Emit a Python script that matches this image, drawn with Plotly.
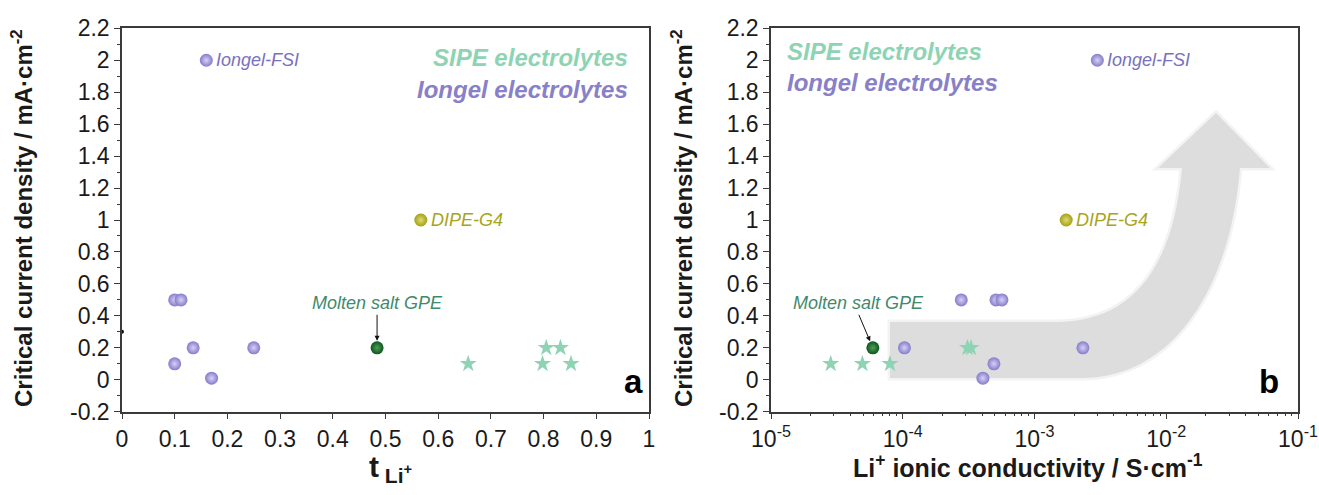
import math
import plotly.graph_objects as go

# ---- data -------------------------------------------------------------
# panel a: critical current density vs Li+ transference number
iongel_t = [0.16, 0.100, 0.112, 0.100, 0.135, 0.170, 0.250]
iongel_j_a = [2.0, 0.5, 0.5, 0.1, 0.2, 0.01, 0.2]
sipe_t = [0.657, 0.805, 0.832, 0.798, 0.852]
sipe_j_a = [0.1, 0.2, 0.2, 0.1, 0.1]
molten_t = [0.484]
molten_j_a = [0.2]
dipe_t = [0.567]
dipe_j_a = [1.0]
extra_t = [0.0]
extra_j_a = [0.3]

# panel b: critical current density vs Li+ ionic conductivity (S/cm)
iongel_sigma = [3.0e-3, 2.78e-4, 5.10e-4, 5.66e-4, 1.03e-4, 2.33e-3, 4.92e-4, 4.06e-4]
iongel_j_b = [2.0, 0.5, 0.5, 0.5, 0.2, 0.2, 0.1, 0.01]
sipe_sigma = [2.84e-5, 4.94e-5, 8.0e-5, 3.1e-4, 3.3e-4]
sipe_j_b = [0.1, 0.1, 0.1, 0.2, 0.2]
molten_sigma = [5.93e-5]
molten_j_b = [0.2]
dipe_sigma = [1.74e-3]
dipe_j_b = [1.0]

x_ticks_a = [i / 10 for i in range(11)]
x_ticktext_a = ["0"] + [f"{v:.1f}" for v in x_ticks_a[1:-1]] + ["1"]
x_ticks_b = [1e-5, 1e-4, 1e-3, 1e-2, 1e-1]
x_ticktext_b = ["10<sup>-5</sup>", "10<sup>-4</sup>", "10<sup>-3</sup>", "10<sup>-2</sup>", "10<sup>-1</sup>"]
x_minor_b = [m * d for d in [1e-5, 1e-4, 1e-3, 1e-2] for m in range(2, 10)]
y_ticks = [-0.2, 0, 0.2, 0.4, 0.6, 0.8, 1, 1.2, 1.4, 1.6, 1.8, 2, 2.2]
y_ticktext = ["-0.2", "0", "0.2", "0.4", "0.6", "0.8", "1", "1.2", "1.4", "1.6", "1.8", "2", "2.2"]

# ---- styling ----------------------------------------------------------
W, H = 1319, 495
FONT = "Liberation Sans, Arial, sans-serif"
PURPLE = dict(color="#857cca", gradient=dict(type="radial", color="#d6d1f6"))
GREEN = dict(color="#0c561b", gradient=dict(type="radial", color="#4f9e5c"))
OLIVE = dict(color="#a5a016", gradient=dict(type="radial", color="#dedb72"))
STAR_COLOR = "#8ed4b4"
LABEL_PURPLE = "#7870c0"
LABEL_OLIVE = "#a8a41c"
LABEL_GREEN = "#3f8a6c"
GROUP_PURPLE = "#8880c8"
AXIS_COLOR = "#3a3a3a"
TEXT_COLOR = "#1a1a1a"

# plot frames in pixels
A_L, A_R = 122, 649
B_L, B_R = 771, 1298
TOP, BOT = 28.3, 411.7


def px(x):
    return x / W


def py(y):
    return 1 - y / H


fig = go.Figure()


def sphere(x, y, style, xa, ya, size=13):
    fig.add_trace(go.Scatter(
        x=x, y=y, mode="markers", xaxis=xa, yaxis=ya, showlegend=False,
        cliponaxis=False,
        marker=dict(size=size, symbol="circle", line=dict(width=0), **style),
    ))


def stars(x, y, xa, ya):
    fig.add_trace(go.Scatter(
        x=x, y=y, mode="markers", xaxis=xa, yaxis=ya, showlegend=False,
        marker=dict(size=13, symbol="star", color=STAR_COLOR, line=dict(width=0)),
    ))


# panel a
stars(sipe_t, sipe_j_a, "x", "y")
sphere(iongel_t, iongel_j_a, PURPLE, "x", "y")
sphere(molten_t, molten_j_a, GREEN, "x", "y")
sphere(dipe_t, dipe_j_a, OLIVE, "x", "y")
fig.add_trace(go.Scatter(x=extra_t, y=extra_j_a, mode="markers", xaxis="x", yaxis="y",
                         showlegend=False, cliponaxis=False,
                         marker=dict(size=4, color="#111111")))

# panel b
stars(sipe_sigma, sipe_j_b, "x2", "y2")
sphere(iongel_sigma, iongel_j_b, PURPLE, "x2", "y2")
sphere(molten_sigma, molten_j_b, GREEN, "x2", "y2")
sphere(dipe_sigma, dipe_j_b, OLIVE, "x2", "y2")

axis_common = dict(
    showline=True, linecolor=AXIS_COLOR, linewidth=1.5, mirror=True,
    ticks="outside", ticklen=6, tickwidth=1.3, tickcolor=AXIS_COLOR,
    showgrid=False, zeroline=False, automargin=False,
    tickfont=dict(family=FONT, size=23, color=TEXT_COLOR),
)
y_common = dict(
    axis_common, range=[-0.2, 2.2], tickmode="array", tickvals=y_ticks, ticktext=y_ticktext,
    minor=dict(tickmode="array", tickvals=[v / 10 for v in range(-1, 22, 2)],
               ticks="outside", ticklen=3, tickcolor=AXIS_COLOR, showgrid=False),
    domain=[py(BOT), py(TOP)],
)

fig.update_layout(
    width=W, height=H,
    margin=dict(l=0, r=0, t=0, b=0, autoexpand=False),
    paper_bgcolor="white", plot_bgcolor="white",
    xaxis=dict(axis_common, range=[0, 1], tickmode="array", tickvals=x_ticks_a,
               ticktext=x_ticktext_a, domain=[px(A_L), px(A_R)], anchor="y"),
    yaxis=dict(y_common, anchor="x"),
    xaxis2=dict(axis_common, type="log", range=[-5, -1], tickmode="array",
                tickvals=x_ticks_b, ticktext=x_ticktext_b,
                minor=dict(tickmode="array", tickvals=x_minor_b, ticks="outside",
                           ticklen=3, tickcolor=AXIS_COLOR, showgrid=False),
                domain=[px(B_L), px(B_R)], anchor="y2"),
    yaxis2=dict(y_common, anchor="x2"),
)

# grey trend arrow in panel b (paper coordinates)
pts = [
    ("M", 890, 322), ("L", 1055, 322), ("C", 1122, 322, 1172, 282, 1182, 168),
    ("L", 1158, 168), ("L", 1216, 113), ("L", 1270, 168), ("L", 1240, 168),
    ("C", 1230, 290, 1172, 378, 1082, 378), ("L", 890, 378),
]
path = ""
for p in pts:
    cmd, coords = p[0], p[1:]
    pairs = [f"{px(coords[i]):.5f},{py(coords[i + 1]):.5f}" for i in range(0, len(coords), 2)]
    path += cmd + " " + " ".join(pairs) + " "
path += "Z"
fig.add_shape(type="path", path=path, xref="paper", yref="paper", layer="below",
              fillcolor="#dddddd", line=dict(width=5, color="rgba(221,221,221,0.35)"))


# ---- text -------------------------------------------------------------
def note(text, x, y, xref, yref, size=18, color="#000", xanchor="left", **kw):
    fig.add_annotation(text=text, x=x, y=y, xref=xref, yref=yref, showarrow=False,
                       xanchor=xanchor, yanchor="middle",
                       font=dict(family=FONT, size=size, color=color), **kw)


lg = math.log10  # annotation positions on log axes are given in log10 units

note("<i>Iongel-FSI</i>", iongel_t[0], iongel_j_a[0], "x", "y", color=LABEL_PURPLE, xshift=8)
note("<i>DIPE-G4</i>", dipe_t[0], dipe_j_a[0], "x", "y", color=LABEL_OLIVE, xshift=8)
note("<i>Iongel-FSI</i>", lg(iongel_sigma[0]), iongel_j_b[0], "x2", "y2", color=LABEL_PURPLE, xshift=8)
note("<i>DIPE-G4</i>", lg(dipe_sigma[0]), dipe_j_b[0], "x2", "y2", color=LABEL_OLIVE, xshift=8)

# Molten salt GPE callouts
fig.add_annotation(text="<i>Molten salt GPE</i>", x=molten_t[0], y=molten_j_a[0], xref="x", yref="y",
                   ax=0, ay=-33, yanchor="bottom", showarrow=True, arrowhead=2, arrowsize=1,
                   arrowwidth=1, arrowcolor="#111", standoff=7,
                   font=dict(family=FONT, size=18, color=LABEL_GREEN))
fig.add_annotation(text="<i>Molten salt GPE</i>", x=lg(molten_sigma[0]), y=molten_j_b[0],
                   xref="x2", yref="y2",
                   ax=-14, ay=-33, yanchor="bottom", showarrow=True, arrowhead=2, arrowsize=1,
                   arrowwidth=1, arrowcolor="#111", standoff=7,
                   font=dict(family=FONT, size=18, color=LABEL_GREEN))

# group labels
note("<b><i>SIPE electrolytes</i></b>", px(630), py(58), "paper", "paper", size=24,
     color=STAR_COLOR, xanchor="right")
note("<b><i>Iongel electrolytes</i></b>", px(630), py(89), "paper", "paper", size=24,
     color=GROUP_PURPLE, xanchor="right")
note("<b><i>SIPE electrolytes</i></b>", px(785), py(51), "paper", "paper", size=24,
     color=STAR_COLOR, xanchor="left")
note("<b><i>Iongel electrolytes</i></b>", px(785), py(83), "paper", "paper", size=24,
     color=GROUP_PURPLE, xanchor="left")

# panel letters
note("<b>a</b>", px(633), py(381), "paper", "paper", size=33, xanchor="center")
note("<b>b</b>", px(1269), py(381), "paper", "paper", size=33, xanchor="center")

# axis titles
ytitle = "<b>Critical current density / mA·cm<sup>-2</sup></b>"
note(ytitle, px(22), py((TOP + BOT) / 2 - 2), "paper", "paper", size=24,
     color=TEXT_COLOR, xanchor="center", textangle=-90)
note(ytitle, px(682), py((TOP + BOT) / 2 - 2), "paper", "paper", size=24,
     color=TEXT_COLOR, xanchor="center", textangle=-90)
note("<b>t</b><sub><b> Li<sup>+</sup></b></sub>", px(390), py(468), "paper", "paper", size=30,
     color=TEXT_COLOR, xanchor="center")
note("<b>Li<sup>+</sup> ionic conductivity / S·cm<sup>-1</sup></b>", px(1028), py(466), "paper", "paper",
     size=25, color=TEXT_COLOR, xanchor="center")

fig.write_html("out.html")
